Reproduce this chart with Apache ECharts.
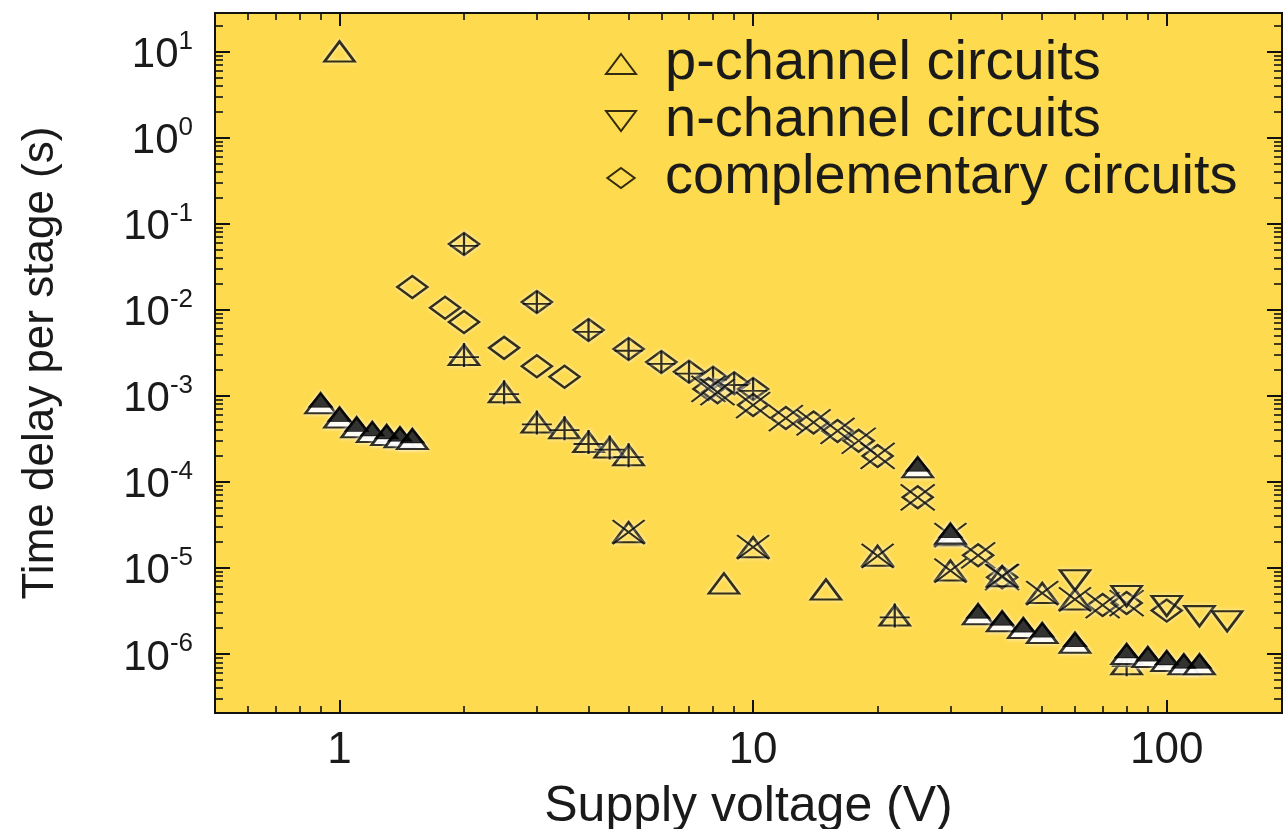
<!DOCTYPE html>
<html>
<head>
<meta charset="utf-8">
<script src="https://cdn.jsdelivr.net/npm/echarts@6/dist/echarts.min.js"></script>
<style>
html,body{margin:0;padding:0;background:#fff;}
#c{width:1284px;height:829px;}
</style>
</head>
<body>
<div id="c"></div>
<script>
// ---- axes ----
const X_MIN = 0.5, X_MAX = 190;
const Y_MIN = 2.06e-7, Y_MAX = 28;
const xTickLabels = ['1', '10', '100'];
const yTickExponents = [-6, -5, -4, -3, -2, -1, 0, 1];
const minorMultipliers = [2, 3, 4, 5, 6, 7, 8, 9];

// ---- series (supply voltage V, time delay s) ----
const pTriPlain = [[1, 10], [8.5, 6.6e-6], [15, 5.6e-6]];
const pTriPlus = [[2, 2.97e-3], [2.5, 1.1e-3], [3, 4.9e-4], [3.5, 4.2e-4], [4, 2.9e-4], [4.5, 2.5e-4], [5, 2.04e-4], [22, 2.8e-6], [80, 7.6e-7]];
const pTriCross = [[5, 2.6e-5], [10, 1.74e-5], [20, 1.38e-5], [30, 9.3e-6], [30, 2.4e-5], [40, 8.0e-6], [50, 5.1e-6], [60, 4.3e-6]];
const pTriFilled = [[0.9, 8.2e-4], [1.0, 5.6e-4], [1.1, 4.3e-4], [1.2, 3.8e-4], [1.3, 3.5e-4], [1.4, 3.3e-4], [1.5, 3.15e-4],
  [25, 1.48e-4], [30, 2.5e-5], [35, 2.9e-6], [40, 2.4e-6], [45, 2.0e-6], [50, 1.75e-6], [60, 1.35e-6],
  [80, 1.0e-6], [90, 9.2e-7], [100, 8.3e-7], [110, 7.6e-7], [120, 7.6e-7]];
const nTri = [[60, 7.2e-6], [80, 4.7e-6], [100, 3.6e-6], [120, 2.75e-6], [140, 2.4e-6]];
const compDia = [[1.5, 1.84e-2], [1.8, 1.05e-2], [2, 7.2e-3], [2.5, 3.6e-3], [3, 2.2e-3], [3.5, 1.66e-3], [100, 3.2e-6]];
const compDiaPlus = [[2, 5.8e-2], [3, 1.23e-2], [4, 5.8e-3], [5, 3.5e-3], [6, 2.47e-3], [7, 1.9e-3], [8, 1.62e-3], [9, 1.4e-3], [10, 1.2e-3]];
const compDiaCross = [[7.8, 1.2e-3], [8.2, 1.1e-3], [10, 7.8e-4], [12, 5.5e-4], [14, 4.9e-4], [16, 3.9e-4], [18, 3.0e-4], [20, 2.0e-4],
  [25, 6.6e-5], [35, 1.4e-5], [40, 7.8e-6], [70, 3.7e-6], [80, 3.9e-6]];

const names = ['p-channel circuits', 'n-channel circuits', 'complementary circuits'];

// ---- styling ----
const BG = '#FEDA4E';
const INK = '#111';
const FONT = 'Liberation Sans, Arial, Helvetica, sans-serif';
const SYM = {
  triUp: 'path://M15,0L30,20L0,20Z',
  triDown: 'path://M0,0L30,0L15,20Z',
  diamond: 'path://M15,0L30,11L15,22L0,11Z',
  plus: 'path://M15,0L15,24M1,14L29,14',
  cross: 'path://M0,0L30,24M0,24L30,0'
};
function minorList(lo, hi) {
  const out = [];
  for (let e = Math.floor(Math.log10(lo)); e <= Math.ceil(Math.log10(hi)); e++) {
    minorMultipliers.forEach(m => { const v = m * Math.pow(10, e); if (v > lo && v < hi) out.push(Math.log10(v)); });
  }
  return out;
}
function sc(name, data, symbol, size, opts) {
  opts = opts || {};
  return {
    type: 'scatter', name: name, data: data, symbol: symbol, symbolSize: size,
    symbolOffset: opts.offset || [0, 0],
    itemStyle: {
      color: opts.fill || 'rgba(0,0,0,0)',
      borderColor: '#000', borderWidth: opts.bw || 2.5,
      shadowColor: 'rgba(255,255,255,0.95)', shadowBlur: opts.noShadow ? 0 : 4
    },
    emphasis: { disabled: true },
    silent: true
  };
}

const chart = echarts.init(document.getElementById('c'));
const xMinor = minorList(X_MIN, X_MAX);
const yMinor = minorList(Y_MIN, Y_MAX);

function logAxis(pos, isX, showLabel) {
  const a = {
    type: 'log', logBase: 10, position: pos,
    min: isX ? X_MIN : Y_MIN, max: isX ? X_MAX : Y_MAX,
    axisLine: { show: true, onZero: false, lineStyle: { color: INK, width: 2 } },
    axisTick: { show: true, inside: true, length: isX ? 13 : 15, lineStyle: { color: INK, width: 2 } },
    splitLine: { show: false },
    minorTick: { show: false },
    axisLabel: { show: false }
  };
  if (showLabel && isX) {
    a.axisLabel = {
      show: true, margin: 16, showMinLabel: false, showMaxLabel: false,
      fontFamily: FONT, fontSize: 44, color: '#1a1a1a',
      formatter: v => xTickLabels[Math.round(Math.log10(v))] || ''
    };
    a.name = 'Supply voltage (V)';
    a.nameLocation = 'middle';
    a.nameGap = 69;
    a.nameTextStyle = { fontFamily: FONT, fontSize: 50, color: '#1a1a1a' };
  }
  if (showLabel && !isX) {
    a.axisLabel = {
      show: true, margin: 22, showMinLabel: false, showMaxLabel: false,
      formatter: v => {
        const e = Math.round(Math.log10(v));
        return yTickExponents.indexOf(e) >= 0 ? '{b|10}{s|' + e + '}' : '';
      },
      rich: {
        b: { fontFamily: FONT, fontSize: 42, lineHeight: 46, color: '#1a1a1a', padding: [8, 0, 0, 0] },
        s: { fontFamily: FONT, fontSize: 26, lineHeight: 26, color: '#1a1a1a', verticalAlign: 'top' }
      }
    };
    a.name = 'Time delay per stage (s)';
    a.nameLocation = 'middle';
    a.nameGap = 152;
    a.nameTextStyle = { fontFamily: FONT, fontSize: 44, color: '#1a1a1a' };
  }
  return a;
}
function minorAxis(pos, isX) {
  return {
    type: 'value', position: pos,
    min: Math.log10(isX ? X_MIN : Y_MIN), max: Math.log10(isX ? X_MAX : Y_MAX),
    axisLine: { show: false, onZero: false },
    axisTick: { show: true, inside: true, length: isX ? 7 : 8, customValues: isX ? xMinor : yMinor, lineStyle: { color: INK, width: 1.6 } },
    axisLabel: { show: false },
    splitLine: { show: false }
  };
}

const option = {
  backgroundColor: '#fff',
  animation: false,
  grid: { left: 215, right: 2, top: 13, bottom: 116, show: true, backgroundColor: BG, borderColor: INK, borderWidth: 2, containLabel: false, outerBoundsMode: 'none' },
  legend: {
    data: names,
    orient: 'vertical', left: 600, top: 31,
    itemWidth: 30, itemHeight: 20, itemGap: 1,
    selectedMode: false,
    textStyle: { fontFamily: FONT, fontSize: 56, lineHeight: 47, color: '#1a1a1a', padding: [0, 0, 0, 24] }
  },
  xAxis: [logAxis('bottom', true, true), logAxis('top', true, false), minorAxis('bottom', true), minorAxis('top', true)],
  yAxis: [logAxis('left', false, true), logAxis('right', false, false), minorAxis('left', false), minorAxis('right', false)],
  series: [
    sc(names[2], compDia, SYM.diamond, [30, 22]),
    sc('compPlusDia', compDiaPlus, SYM.diamond, [30, 22]),
    sc('compPlusMark', compDiaPlus, SYM.plus, [28, 22], { bw: 2 }),
    sc('compCrossDia', compDiaCross, SYM.diamond, [30, 22]),
    sc('compCrossMark', compDiaCross, SYM.cross, [34, 26], { bw: 2 }),
    sc(names[0], pTriPlain, SYM.triUp, [30, 20]),
    sc('pPlusTri', pTriPlus, SYM.triUp, [30, 20]),
    sc('pPlusMark', pTriPlus, SYM.plus, [30, 24], { bw: 2 }),
    sc('pCrossTri', pTriCross, SYM.triUp, [30, 20]),
    sc('pCrossMark', pTriCross, SYM.cross, [32, 24], { bw: 2 }),
    sc('pFilledOutline', pTriFilled, SYM.triUp, [30, 20], { fill: '#fff' }),
    sc('pFilledTop', pTriFilled, SYM.triUp, [24, 14], { fill: '#000', offset: [0, -3], bw: 1, noShadow: true }),
    sc(names[1], nTri, SYM.triDown, [30, 20])
  ]
};
chart.setOption(option);
</script>
</body>
</html>
